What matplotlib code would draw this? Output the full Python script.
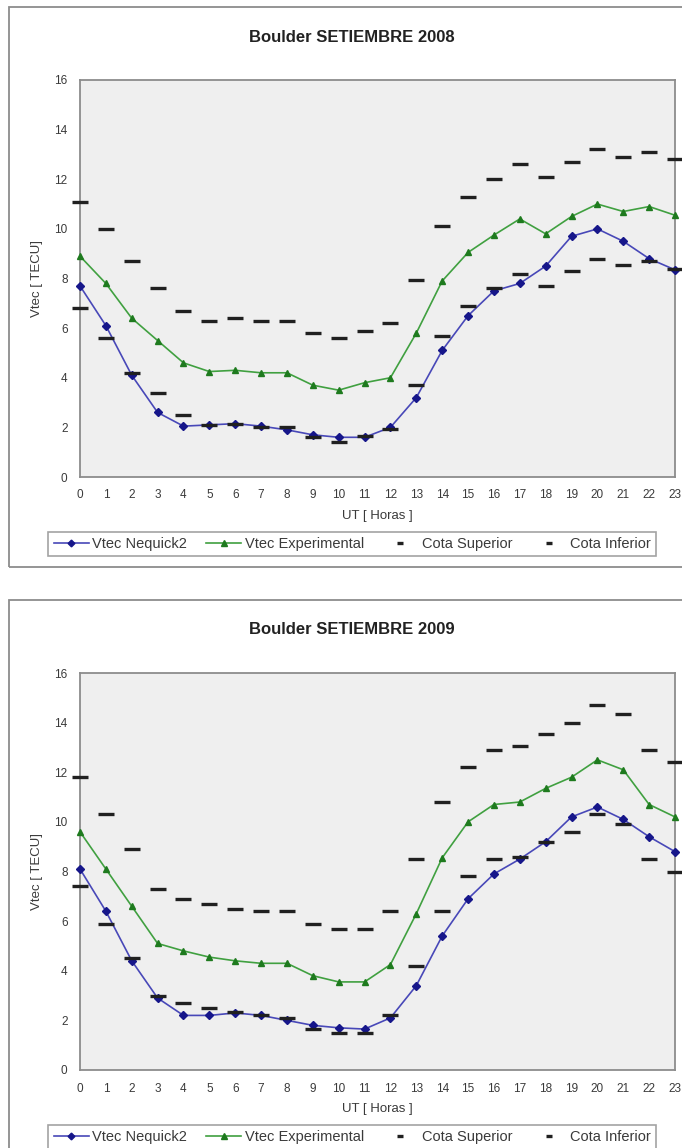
import matplotlib
matplotlib.use('Agg')
import matplotlib.pyplot as plt
from matplotlib.patches import Rectangle

plt.rcParams['font.family'] = ['Liberation Sans', 'DejaVu Sans']

hours = list(range(24))

nequick_2008 = [7.7, 6.1, 4.1, 2.6, 2.05, 2.1, 2.15, 2.05, 1.9, 1.7, 1.6, 1.6,
                2.0, 3.2, 5.1, 6.5, 7.5, 7.8, 8.5, 9.7, 10.0, 9.5, 8.8, 8.35]
exper_2008 = [8.9, 7.8, 6.4, 5.5, 4.6, 4.25, 4.3, 4.2, 4.2, 3.7, 3.5, 3.8,
              4.0, 5.8, 7.9, 9.05, 9.75, 10.4, 9.8, 10.5, 11.0, 10.7, 10.9, 10.55]
sup_2008 = [11.1, 10.0, 8.7, 7.6, 6.7, 6.3, 6.4, 6.3, 6.3, 5.8, 5.6, 5.9,
            6.2, 7.95, 10.1, 11.3, 12.0, 12.6, 12.1, 12.7, 13.2, 12.9, 13.1, 12.8]
inf_2008 = [6.8, 5.6, 4.2, 3.4, 2.5, 2.1, 2.15, 2.0, 2.0, 1.6, 1.4, 1.65,
            1.95, 3.7, 5.7, 6.9, 7.6, 8.2, 7.7, 8.3, 8.8, 8.55, 8.7, 8.4]

nequick_2009 = [8.1, 6.4, 4.4, 2.9, 2.2, 2.2, 2.3, 2.2, 2.0, 1.8, 1.7, 1.65,
                2.1, 3.4, 5.4, 6.9, 7.9, 8.5, 9.2, 10.2, 10.6, 10.1, 9.4, 8.8]
exper_2009 = [9.6, 8.1, 6.6, 5.1, 4.8, 4.55, 4.4, 4.3, 4.3, 3.8, 3.55, 3.55,
              4.25, 6.3, 8.55, 10.0, 10.7, 10.8, 11.35, 11.8, 12.5, 12.1, 10.7, 10.2]
sup_2009 = [11.8, 10.3, 8.9, 7.3, 6.9, 6.7, 6.5, 6.4, 6.4, 5.9, 5.7, 5.7,
            6.4, 8.5, 10.8, 12.2, 12.9, 13.05, 13.55, 14.0, 14.7, 14.35, 12.9, 12.4]
inf_2009 = [7.4, 5.9, 4.5, 3.0, 2.7, 2.5, 2.35, 2.2, 2.1, 1.65, 1.5, 1.5,
            2.2, 4.2, 6.4, 7.8, 8.5, 8.6, 9.2, 9.6, 10.3, 9.9, 8.5, 8.0]

W, H = 682, 1148
fig = plt.figure(figsize=(W / 100, H / 100), dpi=100)


def px(x0, y0, x1, y1):
    return [x0 / W, 1 - y1 / H, (x1 - x0) / W, (y1 - y0) / H]


def drawPanel(title, nequick, exper, sup, inf, top):
    # outer chart frame
    fig.patches.append(Rectangle((9 / W, 1 - (top + 560) / H), 700 / W, 560 / H,
                                 transform=fig.transFigure, facecolor='none',
                                 edgecolor='#8c8c8c', linewidth=1.3, zorder=0))
    ax = fig.add_axes(px(80, top + 73, 675, top + 470))
    ax.set_facecolor('#efefef')
    ax.plot(hours, nequick, color='#4848b8', marker='D', markersize=3.8,
            markerfacecolor='#16168a', markeredgecolor='#16168a',
            linewidth=1.2, label='Vtec Nequick2', clip_on=False, zorder=4)
    ax.plot(hours, exper, color='#40a040', marker='^', markersize=5,
            markerfacecolor='#1e7a1e', markeredgecolor='#1e7a1e',
            linewidth=1.2, label='Vtec Experimental', clip_on=False, zorder=4)
    ax.plot(hours, sup, linestyle='none', marker='_', markersize=11,
            markeredgewidth=2.4, color='#202020', label='Cota Superior',
            clip_on=False, zorder=5)
    ax.plot(hours, inf, linestyle='none', marker='_', markersize=11,
            markeredgewidth=2.4, color='#202020', label='Cota Inferior',
            clip_on=False, zorder=5)
    ax.set_xlim(0, 23)
    ax.set_ylim(0, 16)
    ax.set_xticks(hours)
    ax.set_yticks(range(0, 17, 2))
    ax.tick_params(labelsize=8.5, colors='#3a3a3a', length=0)
    ax.tick_params(axis='x', pad=9)
    ax.tick_params(axis='y', pad=9)
    for s in ax.spines.values():
        s.set_color('#8c8c8c')
        s.set_linewidth(1.3)
    ax.set_xlabel('UT [ Horas ]', fontsize=9.5, color='#3a3a3a', labelpad=6)
    ax.set_ylabel('Vtec [ TECU]', fontsize=9.5, color='#3a3a3a', labelpad=8)
    fig.text(352 / W, 1 - (top + 30) / H, title, ha='center', va='center',
             fontsize=12, fontweight='bold', color='#222222')
    handles, labels = ax.get_legend_handles_labels()
    leg = fig.legend(handles, labels, loc='center',
                     bbox_to_anchor=(352 / W, 1 - (top + 537) / H), ncol=4,
                     fontsize=10.5, frameon=True, fancybox=False,
                     edgecolor='#8c8c8c', handlelength=2.4, columnspacing=1.3,
                     handletextpad=0.25, borderpad=0.35, markerscale=0.9)
    leg.get_frame().set_linewidth(1.2)
    for h in leg.legend_handles[2:]:
        h.set_markersize(5)
    for t in leg.get_texts():
        t.set_color('#3a3a3a')


drawPanel('Boulder SETIEMBRE 2008', nequick_2008, exper_2008, sup_2008, inf_2008, 7)
drawPanel('Boulder SETIEMBRE 2009', nequick_2009, exper_2009, sup_2009, inf_2009, 600)

fig.savefig('out.png', dpi=100)
